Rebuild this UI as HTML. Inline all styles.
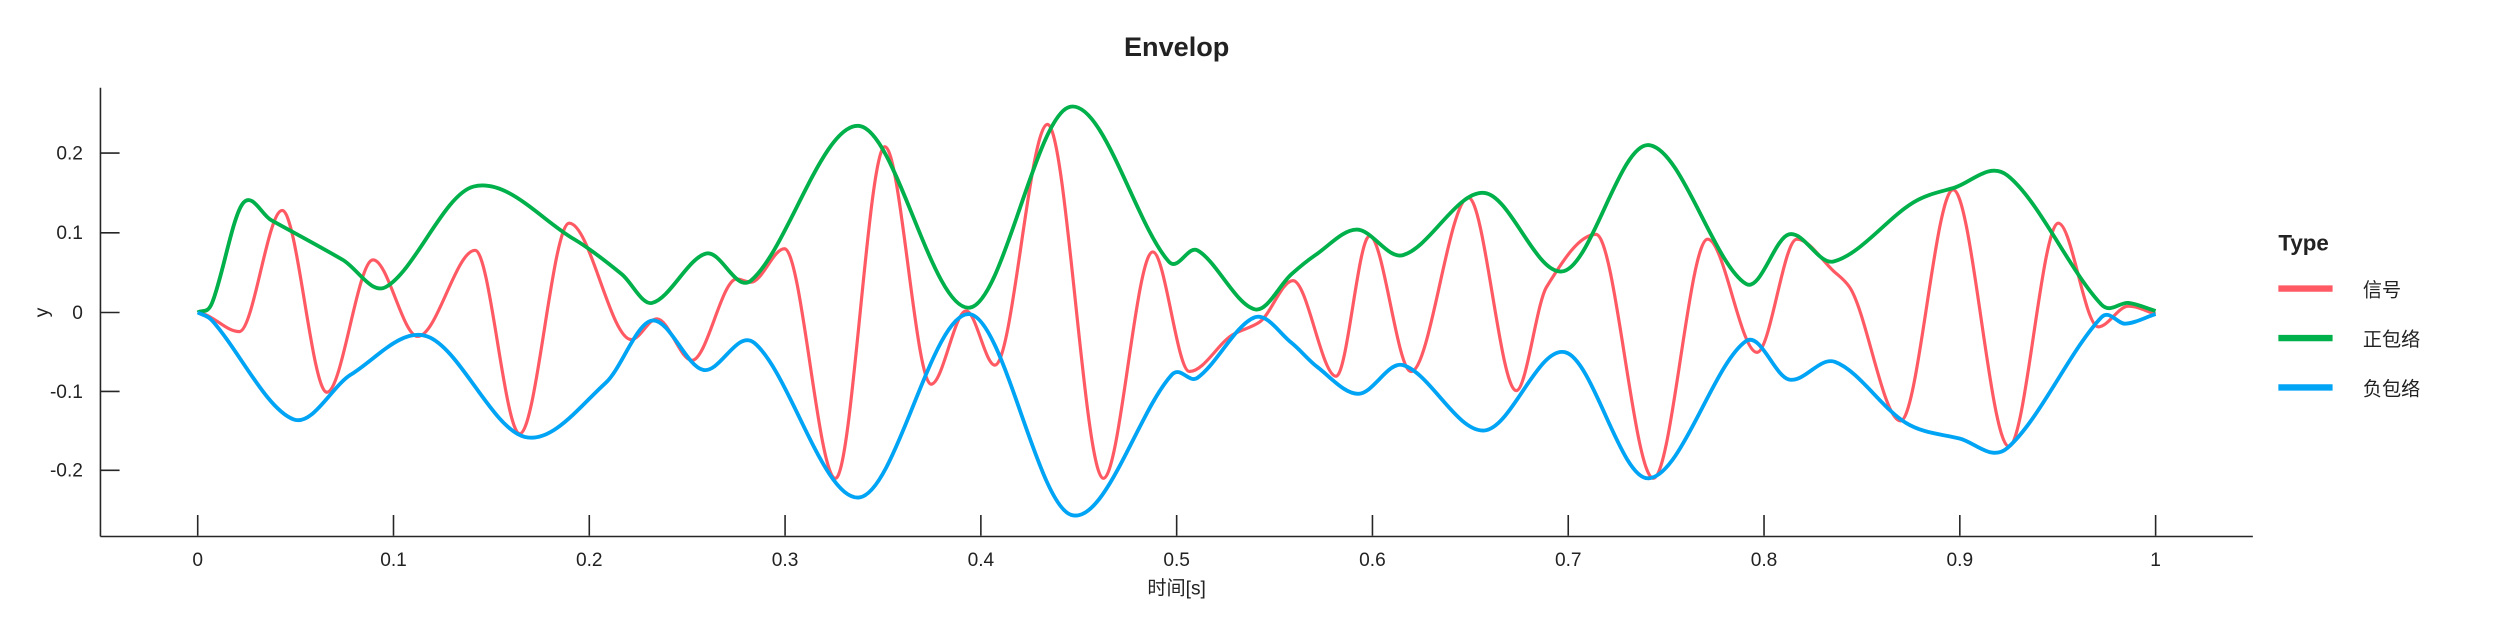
<!DOCTYPE html>
<html><head><meta charset="utf-8"><style>
html,body{margin:0;padding:0;background:#fff}
svg{display:block}
text{font-family:"Liberation Sans","Noto Sans CJK SC",sans-serif;fill:#222}
</style></head><body>
<svg id="s" width="2500" height="625" viewBox="0 0 1568 392" xmlns="http://www.w3.org/2000/svg">
<rect width="1568" height="392" fill="#fff"/>
<text x="738" y="35" text-anchor="middle" font-size="17" font-weight="bold" fill="#000">Envelop</text>
<g stroke="#262626" stroke-width="1" fill="none">
<line x1="63" y1="55" x2="63" y2="336.5"/>
<line x1="63" y1="336.5" x2="1413" y2="336.5"/>
<line x1="63" y1="96" x2="75" y2="96"/>
<line x1="63" y1="146" x2="75" y2="146"/>
<line x1="63" y1="196" x2="75" y2="196"/>
<line x1="63" y1="245.5" x2="75" y2="245.5"/>
<line x1="63" y1="295" x2="75" y2="295"/>
</g>
<g id="xt" stroke="#262626" stroke-width="1"></g>
<g font-size="12" text-anchor="end">
<text x="52" y="100">0.2</text>
<text x="52" y="150">0.1</text>
<text x="52" y="200">0</text>
<text x="52" y="249.5">-0.1</text>
<text x="52" y="299">-0.2</text>
</g>
<g id="xl" font-size="12" text-anchor="middle"></g>
<text x="738" y="373" font-size="12" text-anchor="middle">时间[s]</text>
<text transform="translate(30,196) rotate(-90)" font-size="12" text-anchor="middle">y</text>
<path id="red" fill="none" stroke="#ff5a64" stroke-width="2"/>
<path id="grn" fill="none" stroke="#00b04a" stroke-width="2.4"/>
<path id="blu" fill="none" stroke="#00a4f5" stroke-width="2.4"/>
<text x="1429" y="157" font-size="14" font-weight="bold" fill="#000">Type</text>
<line x1="1429" y1="181" x2="1463" y2="181" stroke="#ff5a64" stroke-width="4"/>
<line x1="1429" y1="212" x2="1463" y2="212" stroke="#00b04a" stroke-width="4"/>
<line x1="1429" y1="243" x2="1463" y2="243" stroke="#00a4f5" stroke-width="4"/>
<text x="1482" y="186" font-size="12">信号</text>
<text x="1482" y="217" font-size="12">正包络</text>
<text x="1482" y="248" font-size="12">负包络</text>
</svg>
<script>
var ns="http://www.w3.org/2000/svg";
var xt=document.getElementById('xt'),xl=document.getElementById('xl');
var labs=['0','0.1','0.2','0.3','0.4','0.5','0.6','0.7','0.8','0.9','1'];
for(var i=0;i<=10;i++){var x=124+122.8*i;
var l=document.createElementNS(ns,'line');l.setAttribute('x1',x);l.setAttribute('x2',x);l.setAttribute('y1',323);l.setAttribute('y2',336);xt.appendChild(l);
var t=document.createElementNS(ns,'text');t.setAttribute('x',x);t.setAttribute('y',355);t.textContent=labs[i];xl.appendChild(t);}
function herm(p,m){var s='M'+p[0][0]+','+p[0][1];
for(var i=0;i<p.length-1;i++){var h=p[i+1][0]-p[i][0];
s+=' C'+(p[i][0]+h/3)+','+(p[i][1]+m[i]*h/3)+' '+(p[i+1][0]-h/3)+','+(p[i+1][1]-m[i+1]*h/3)+' '+p[i+1][0]+','+p[i+1][1];}
return s;}
function mono(p){var n=p.length,d=[],m=[];
for(var i=0;i<n-1;i++)d.push((p[i+1][1]-p[i][1])/(p[i+1][0]-p[i][0]));
m[0]=d[0];m[n-1]=d[n-2];
for(var i=1;i<n-1;i++){if(d[i-1]*d[i]<=0)m[i]=0;else{m[i]=2/(1/d[i-1]+1/d[i]);}}
return herm(p,m);}
function fd(p){var n=p.length,m=[];
m[0]=(p[1][1]-p[0][1])/(p[1][0]-p[0][0]);m[n-1]=(p[n-1][1]-p[n-2][1])/(p[n-1][0]-p[n-2][0]);
for(var i=1;i<n-1;i++)m[i]=(p[i+1][1]-p[i-1][1])/(p[i+1][0]-p[i-1][0]);
return herm(p,m);}
var G=[[124,196],[133,190],[152,128],[170,138],[215,163],[242,180],[297,117],[360,150],[390,172],[409,190],[443,159],[471,176],[539,79],[608,193],[671,67],[733,164],[751,157],[787,194],[810,172],[825,160],[851,144],[880,160],[931,121],[981,170],[1034,91],[1095,178],[1122,147],[1150,164],[1200,127],[1225,118],[1259,110],[1318,191],[1335,190],[1352,195]];
var B=[[124,196],[133,201],[184,263],[220,235],[268,211],[329,274],[380,240],[409,201],[441,232],[473,215],[539,312],[608,197],[672,323],[735,235],[751,237],[787,199],[810,215],[826,230],[852,247],[880,229],[931,270],[982,221],[1034,300],[1095,214],[1122,238],[1151,227],[1195,265],[1229,275],[1259,281],[1318,199],[1333,203],[1352,197]];
var R=[[124,196],[128,197],[150,208],[177,132],[205,246],[234,163],[262,211],[298,157],[326,272],[357,140],[396,213],[412,200],[434,226],[462,175],[471,177],[492,156],[524,300],[555,92],[584,241],[606,195],[624,229],[657,78],[692,300],[723,158],[746,233],[773,210],[790,202],[811,176],[838,236],[859,148],[885,233],[921,124],[951,245],[970,180],[1001,147],[1037,300],[1071,150],[1102,221],[1127,150],[1150,170],[1160,180],[1192,264],[1225,119],[1260,280],[1291,140],[1316,205],[1335,192],[1352,197]];
document.getElementById('grn').setAttribute('d',fd(G));
document.getElementById('blu').setAttribute('d',fd(B));
document.getElementById('red').setAttribute('d',mono(R));
</script>
</body></html>
